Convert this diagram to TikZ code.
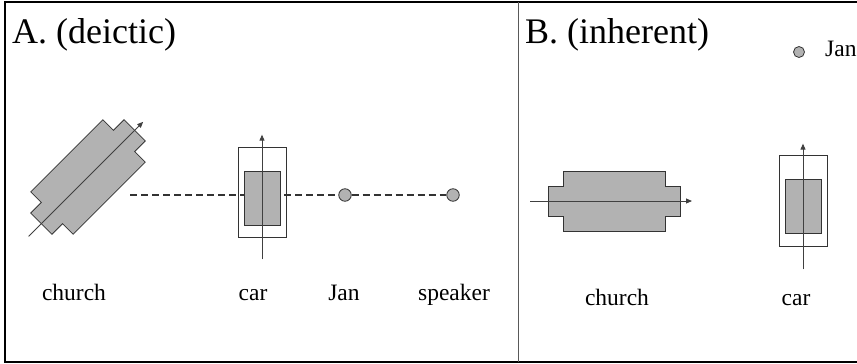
\documentclass[tikz,border=0pt]{standalone}
\usepackage{fontspec}
\setmainfont{Liberation Serif}
\usepackage{xcolor}
\usetikzlibrary{arrows.meta, positioning}

\definecolor{roof}{gray}{0.70}
\definecolor{edge}{gray}{0.20}
\definecolor{axisgray}{gray}{0.25}

\begin{document}
\begin{tikzpicture}[x=1pt, y=-1pt,
        plan/.style={draw=edge, fill=roof, line width=0.8pt},
        axis/.style={draw=axisgray, line width=0.9pt, -{Triangle[length=6pt,width=5pt]}},
        carbox/.style={draw=edge, line width=0.7pt, minimum width=48pt, minimum height=90pt, inner sep=0pt},
        carseat/.style={plan, minimum width=36pt, minimum height=54pt, inner sep=0pt},
        spot/.style={circle, draw=edge, fill=roof, line width=0.8pt, minimum size=11pt, inner sep=0pt},
        sight/.style={draw=edge, line width=1.4pt, dash pattern=on 7pt off 4pt},
        word/.style={anchor=base, inner sep=0pt, font=\fontsize{23.5}{28}\selectfont},
        heading/.style={anchor=base west, inner sep=0pt, font=\fontsize{36}{42}\selectfont},
        church/.pic={
            \draw[plan] (-51,-30) -- (51,-30) -- (51,-15) -- (66,-15) -- (66,15) -- (51,15)
                -- (51,30) -- (-51,30) -- (-51,15) -- (-66,15) -- (-66,-15) -- (-51,-15) -- cycle;
            \coordinate (-tail) at (-84,0);
            \coordinate (-head) at (78,0);
            \draw[axis] (-tail) -- (-head);
        }]
        \useasboundingbox (0,0) rectangle (857,364);

        % frame
        \draw[line width=2.5pt, line cap=rect] (857,2) -- (5,2) -- (5,362) -- (857,362);
        \draw[gray!70!black, line width=0.9pt] (518,2) -- (518,362);

        % A. deictic
        \node[heading] (titleA) at (12,43) {A. (deictic)};
        \pic (churchA) at (88,177) [rotate=45] {church};

        \node[spot, minimum size=12.5pt] (janA) at (345,195) {};
        \node[spot, minimum size=12.5pt] (spkA) at (453,195) {};
        \coordinate (dashA) at (130,195);
        \draw[sight] (dashA) -- (janA) -- (spkA);

        \node[carbox]  (carA)  at (262,192) {};
        \node[carseat] (seatA) at (262,198) {};
        \draw[axis] ([yshift=-22pt]carA.south) -- ([yshift=12pt]carA.north);

        \node[word] (lchurchA) at (74,300)  {church};
        \node[word] (lcarA)    at (253,300) {car};
        \node[word] (ljanA)    at (344,300) {Jan};
        \node[word] (lspkA)    at (454,300) {speaker};

        % B. inherent
        \node[heading] (titleB) at (525,43) {B. (inherent)};
        \pic (churchB) at (614,201) {church};

        \node[carbox, minimum height=91pt] (carB) at (803,200.5) {};
        \node[carseat] (seatB) at (803,206) {};
        \draw[axis] ([yshift=-23pt]carB.south) -- ([yshift=11pt]carB.north);

        \node[spot] (janB) at (799,52) {};
        \node[word, anchor=base west] (ljanB) at (825,56) {Jan};

        \node[word] (lchurchB) at (617,305) {church};
        \node[word] (lcarB)    at (796,305) {car};
\end{tikzpicture}
\end{document}
